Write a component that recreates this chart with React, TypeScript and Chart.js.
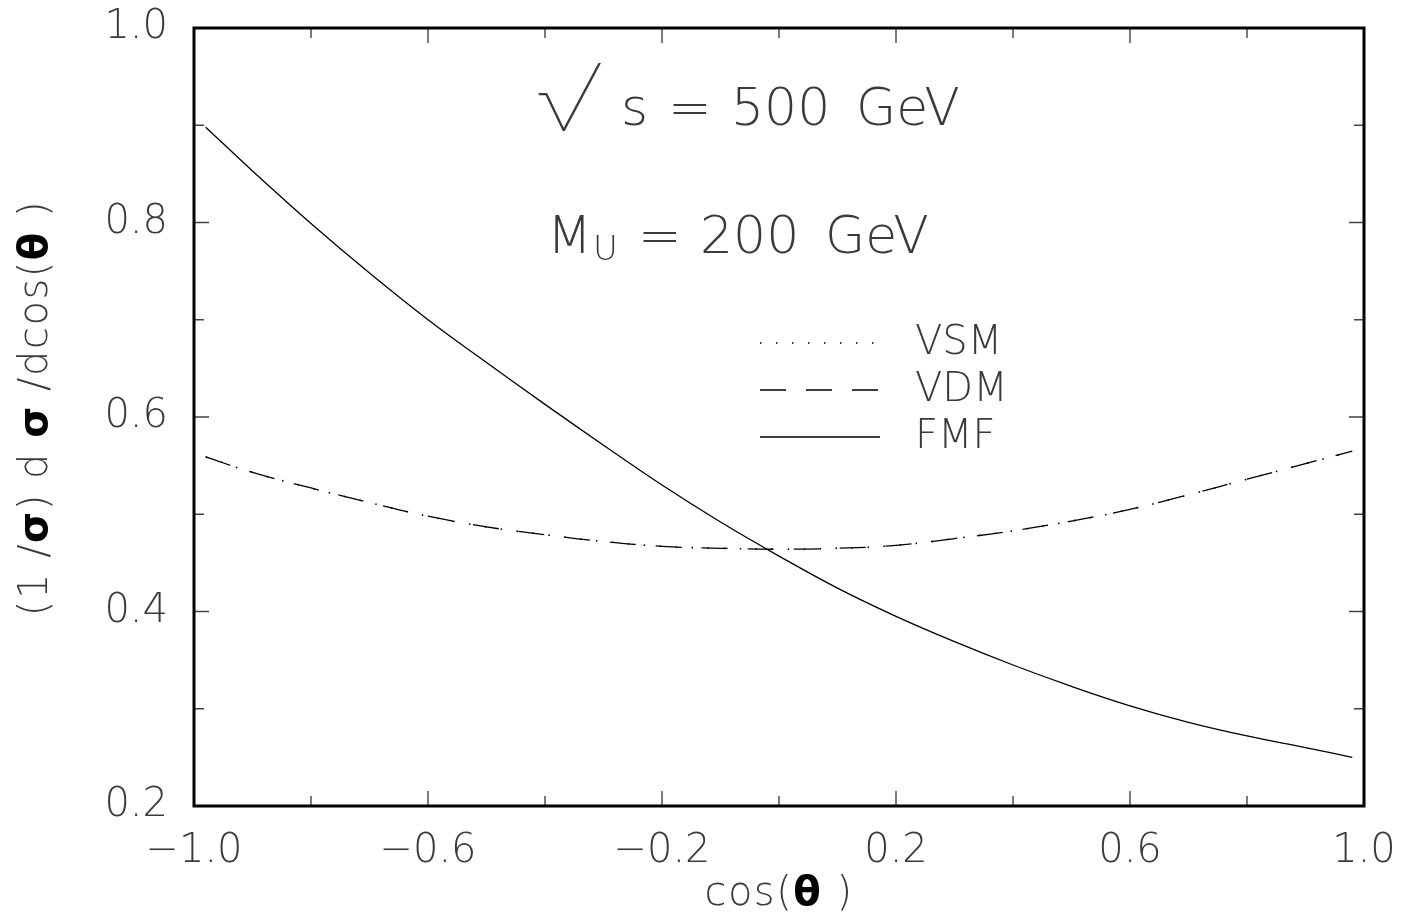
import React, { useEffect, useRef } from "react";
import { Chart, registerables } from "chart.js";

Chart.register(...registerables);

// cos(theta) sample points
const cosTheta = [-0.98, -0.9, -0.8, -0.7, -0.6, -0.5, -0.4, -0.3, -0.2, -0.1, 0.0, 0.1, 0.2, 0.3, 0.4, 0.5, 0.6, 0.7, 0.8, 0.9, 0.98];
// (1/sigma) dsigma/dcos(theta)
const fmfValues = [0.898, 0.853, 0.799, 0.748, 0.700, 0.656, 0.613, 0.571, 0.530, 0.492, 0.457, 0.424, 0.395, 0.369, 0.345, 0.323, 0.303, 0.286, 0.272, 0.260, 0.250];
const vdmValues = [0.559, 0.543, 0.527, 0.512, 0.498, 0.487, 0.479, 0.472, 0.467, 0.465, 0.464, 0.465, 0.468, 0.475, 0.483, 0.493, 0.505, 0.520, 0.536, 0.552, 0.565];
const vsmValues = [0.559, 0.543, 0.527, 0.512, 0.498, 0.487, 0.479, 0.472, 0.467, 0.465, 0.464, 0.465, 0.468, 0.475, 0.483, 0.493, 0.505, 0.520, 0.536, 0.552, 0.565];
const seriesNames = ["VSM", "VDM", "FMF"];
const xTickLabels = ["−1.0", "−0.6", "−0.2", "0.2", "0.6", "1.0"];
const yTickLabels = ["0.2", "0.4", "0.6", "0.8", "1.0"];

const FAM = "'DejaVu Sans', 'Liberation Sans', sans-serif";
const W = "200";
const TXT = "#3a3a3a";

function fmtX(v: number): string {
  const n = Math.round(v * 10);
  if ((n + 10) % 4 !== 0) return "";
  const s = (n < 0 ? "−" : "") + Math.abs(n / 10).toFixed(1);
  return xTickLabels.includes(s) ? s : "";
}
function fmtY(v: number): string {
  const n = Math.round(v * 10);
  if (n % 2 !== 0) return "";
  const s = (n / 10).toFixed(1);
  return yTickLabels.includes(s) ? s : "";
}

const framePlugin = {
  id: "framePlugin",
  afterDraw(chart: any) {
    const { ctx, chartArea: ca, scales } = chart;
    const xs = scales.x;
    const ys = scales.y;
    // reference-pixel helpers (reference plot area 194..1364, 28..806)
    const RX = (p: number) => ca.left + (p - 194) * (ca.width / 1170);
    const RY = (p: number) => ca.top + (p - 28) * (ca.height / 778);
    ctx.save();
    // ticks
    ctx.strokeStyle = "#444";
    ctx.lineWidth = 1.4;
    xs.ticks.forEach((t: any) => {
      const v = t.value;
      const p = xs.getPixelForValue(v);
      const len = fmtX(v) ? 15 : 10;
      ctx.beginPath();
      ctx.moveTo(p, ca.bottom);
      ctx.lineTo(p, ca.bottom - len);
      ctx.moveTo(p, ca.top);
      ctx.lineTo(p, ca.top + len);
      ctx.stroke();
    });
    ys.ticks.forEach((t: any) => {
      const v = t.value;
      const p = ys.getPixelForValue(v);
      const len = fmtY(v) ? 15 : 10;
      ctx.beginPath();
      ctx.moveTo(ca.left, p);
      ctx.lineTo(ca.left + len, p);
      ctx.moveTo(ca.right, p);
      ctx.lineTo(ca.right - len, p);
      ctx.stroke();
    });
    // frame
    ctx.strokeStyle = "#000";
    ctx.lineWidth = 3;
    ctx.strokeRect(ca.left, ca.top, ca.width, ca.height);

    // legend
    const ds = chart.data.datasets;
    const legY = [343, 390, 437];
    ds.forEach((d: any, i: number) => {
      ctx.save();
      ctx.strokeStyle = "#000";
      ctx.lineWidth = d.borderWidth;
      ctx.setLineDash(d.borderDash || []);
      ctx.beginPath();
      ctx.moveTo(RX(760), RY(legY[i]));
      ctx.lineTo(RX(880), RY(legY[i]));
      ctx.stroke();
      ctx.restore();
      ctx.fillStyle = TXT;
      ctx.font = `${W} 40px ${FAM}`;
      ctx.textAlign = "left";
      ctx.textBaseline = "middle";
      ctx.fillText(d.label, RX(915), RY(legY[i]) + 1);
    });

    // annotations
    ctx.fillStyle = TXT;
    ctx.textAlign = "left";
    ctx.textBaseline = "alphabetic";
    ctx.save();
    ctx.translate(RX(538), RY(131));
    ctx.scale(1.19, 1.04);
    ctx.font = `100 90px Inter, ${FAM}`;
    ctx.fillText("√", 0, 0);
    ctx.restore();
    ctx.font = `${W} 52px ${FAM}`;
    ctx.fillText("s", RX(621), RY(125));
    ctx.fillText("=", RX(668), RY(125));
    ctx.fillText("500", RX(731), RY(125));
    ctx.fillText("GeV", RX(856), RY(125));
    ctx.fillText("M", RX(547), RY(253));
    ctx.font = `${W} 34px ${FAM}`;
    ctx.fillText("U", RX(593), RY(260));
    ctx.font = `${W} 52px ${FAM}`;
    ctx.fillText("=", RX(638), RY(253));
    ctx.fillText("200", RX(700), RY(253));
    ctx.fillText("GeV", RX(825), RY(253));

    // axis titles with bold greek letters
    const drawPieces = (pieces: [string, boolean][], cx: number, cy: number, rot: number, size: number, spacing: number) => {
      ctx.save();
      ctx.translate(cx, cy);
      ctx.rotate(rot);
      ctx.textBaseline = "middle";
      ctx.textAlign = "left";
      (ctx as any).letterSpacing = `${spacing}px`;
      let total = 0;
      const widths = pieces.map(([s, b]) => {
        ctx.font = `${b ? "bold" : W} ${size}px ${FAM}`;
        const w = ctx.measureText(s).width;
        total += w;
        return w;
      });
      let x = -total / 2;
      pieces.forEach(([s, b], i) => {
        ctx.font = `${b ? "bold" : W} ${size}px ${FAM}`;
        ctx.fillStyle = b ? "#000" : TXT;
        ctx.fillText(s, x, 0);
        x += widths[i];
      });
      ctx.restore();
    };
    drawPieces(
      [["(1 /", false], ["σ", true], [") d ", false], ["σ", true], [" /dcos(", false], ["θ", true], [" )", false]],
      RX(37), RY(408), -Math.PI / 2, 40, 1.5
    );
    drawPieces([["cos(", false], ["θ", true], [" )", false]], RX(779), RY(895), 0, 40, 1.5);
    ctx.restore();
  },
};

export default function App() {
  const ref = useRef<HTMLCanvasElement | null>(null);
  useEffect(() => {
    document.body.style.margin = "0";
    const mk = (vals: number[]) => cosTheta.map((x, i) => ({ x, y: vals[i] }));
    const zeroPad = (s: any) => {
      s.paddingLeft = 0;
      s.paddingRight = 0;
      s.paddingTop = 0;
      s.paddingBottom = 0;
    };
    const chart = new Chart(ref.current as HTMLCanvasElement, {
      type: "scatter",
      data: {
        datasets: [
          { label: seriesNames[0], data: mk(vsmValues), showLine: true, borderColor: "#000", borderWidth: 1.6, borderDash: [1.5, 14.5], pointRadius: 0, tension: 0.4 },
          { label: seriesNames[1], data: mk(vdmValues), showLine: true, borderColor: "#000", borderWidth: 1.3, borderDash: [26, 20], pointRadius: 0, tension: 0.4 },
          { label: seriesNames[2], data: mk(fmfValues), showLine: true, borderColor: "#000", borderWidth: 1.3, pointRadius: 0, tension: 0.4 },
        ],
      },
      options: {
        animation: false,
        responsive: true,
        maintainAspectRatio: false,
        layout: { padding: { left: 0, right: 40, top: 28, bottom: 0 } },
        plugins: { legend: { display: false }, tooltip: { enabled: false } },
        scales: {
          x: {
            type: "linear",
            min: -1,
            max: 1,
            grid: { display: false, drawTicks: false },
            border: { display: false },
            ticks: { stepSize: 0.2, autoSkip: false, maxRotation: 0, padding: 22, color: TXT, font: { family: FAM, size: 40, weight: W }, callback: (v: any) => fmtX(Number(v)) },
            afterFit: (s: any) => { s.height = 115; zeroPad(s); },
          },
          y: {
            type: "linear",
            min: 0.2,
            max: 1.0,
            grid: { display: false, drawTicks: false },
            border: { display: false },
            ticks: { stepSize: 0.1, autoSkip: false, padding: 26, color: TXT, font: { family: FAM, size: 40, weight: W }, callback: (v: any) => fmtY(Number(v)) },
            afterFit: (s: any) => { s.width = 194; zeroPad(s); },
          },
        },
      },
      plugins: [framePlugin],
    } as any);
    return () => chart.destroy();
  }, []);
  return (
    <div style={{ position: "absolute", left: 0, top: 0, width: 1404, height: 921, background: "#fff" }}>
      <canvas ref={ref} />
    </div>
  );
}
